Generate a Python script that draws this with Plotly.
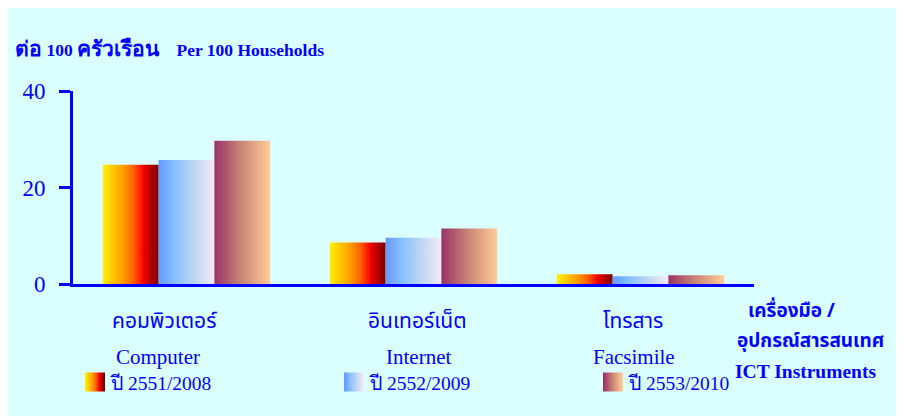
import plotly.graph_objects as go

# ---- data ----
categories_th = ["คอมพิวเตอร์", "อินเทอร์เน็ต", "โทรสาร"]
categories_en = ["Computer", "Internet", "Facsimile"]
series_names = ["ปี 2551/2008", "ปี 2552/2009", "ปี 2553/2010"]
values_2008 = [24.7, 8.6, 2.0]
values_2009 = [25.7, 9.6, 1.6]
values_2010 = [29.7, 11.5, 1.8]
y_ticks = [0, 20, 40]

series_values = [values_2008, values_2009, values_2010]

# ---- styles ----
BLUE = "#0000FF"
BG = "#DBFFFF"
SERIF = "Liberation Serif, Times New Roman, serif"
THAI = "Tahoma, Noto Sans Thai, DejaVu Sans, sans-serif"

scales = [
    [[0, "#FFF000"], [0.35, "#FFA000"], [0.55, "#FF6000"], [0.70, "#FF1000"], [0.73, "#F00000"], [1, "#780000"]],
    [[0, "#6699FF"], [0.3, "#88C0FF"], [0.6, "#B8D4F0"], [1, "#F6EAF8"]],
    [[0, "#993366"], [0.5, "#CC8877"], [1, "#FFCC99"]],
]

group_w = 0.737
bar_w = group_w / 3

fig = go.Figure()
for j, vals in enumerate(series_values):
    for i, v in enumerate(vals):
        x0 = i - group_w / 2 + j * bar_w
        x1 = x0 + bar_w
        fig.add_trace(go.Scatter(
            x=[x0, x1, x1, x0, x0], y=[0, 0, v, v, 0],
            mode="lines", line=dict(width=0), fill="toself",
            fillgradient=dict(type="horizontal", colorscale=scales[j]),
            name=series_names[j], legendgroup=series_names[j],
            showlegend=False, hoverinfo="skip",
        ))

OFF = 8  # page offset of the figure inside the browser window
W, H = 904, 416
PLOT_LEFT, PLOT_RIGHT, PLOT_TOP, PLOT_BOTTOM = 73, 754, 91, 284.3  # page pixels
L = PLOT_LEFT - OFF
R = W - (PLOT_RIGHT - OFF)
T = PLOT_TOP - OFF
B = H - (PLOT_BOTTOM - OFF)
pw, ph = PLOT_RIGHT - PLOT_LEFT, PLOT_BOTTOM - PLOT_TOP


def px_x(px):
    return (px - PLOT_LEFT) / pw


def px_y(py):
    return (PLOT_BOTTOM - py) / ph


def hexrgb(h):
    h = h.lstrip("#")
    return [int(h[k:k + 2], 16) for k in (0, 2, 4)]


def sample(scale, t):
    for (a, ca), (b, cb) in zip(scale[:-1], scale[1:]):
        if a <= t <= b:
            f = 0 if b == a else (t - a) / (b - a)
            A, Bc = hexrgb(ca), hexrgb(cb)
            return "rgb(%d,%d,%d)" % tuple(round(A[k] + (Bc[k] - A[k]) * f) for k in range(3))
    return scale[-1][1]


annotations = []
shapes = []

# category labels
th_shift = [-22, 4, -8]
en_shift = [-29, 5, -7]
for i in range(3):
    annotations.append(dict(x=i, y=px_y(322), xref="x", yref="paper", text=categories_th[i],
                            showarrow=False, xshift=th_shift[i], xanchor="center", yanchor="middle",
                            font=dict(family=THAI, size=21, color=BLUE)))
    annotations.append(dict(x=i, y=px_y(357), xref="x", yref="paper", text=categories_en[i],
                            showarrow=False, xshift=en_shift[i], xanchor="center", yanchor="middle",
                            font=dict(family=SERIF, size=21, color=BLUE)))

# custom legend (gradient swatches + labels)
sw_x = [85, 344, 603]
n_sl = 20
for j in range(3):
    for k in range(n_sl):
        x0 = sw_x[j] + k
        shapes.append(dict(type="rect", xref="paper", yref="paper",
                           x0=px_x(x0), x1=px_x(x0 + 1.05), y0=px_y(392), y1=px_y(373),
                           line=dict(width=0), fillcolor=sample(scales[j], k / (n_sl - 1))))
    annotations.append(dict(x=px_x(sw_x[j] + 23), y=px_y(384), xref="paper", yref="paper",
                            xanchor="left", yanchor="middle", text=series_names[j], showarrow=False,
                            font=dict(family=SERIF, size=19.5, color=BLUE)))

# unit title
title_text = ("<b><span style='font-size:21px'>ต่อ</span> 100 "
              "<span style='font-size:21px'>ครัวเรือน</span>&nbsp;&nbsp;&nbsp; Per 100 Households</b>")
annotations.append(dict(x=px_x(13), y=px_y(49), xref="paper", yref="paper", xanchor="left",
                        yanchor="middle", text=title_text, showarrow=False,
                        font=dict(family=SERIF, size=17.5, color=BLUE)))

# x-axis title on the right
annotations.append(dict(x=px_x(746), y=px_y(312), xref="paper", yref="paper", xanchor="left",
                        yanchor="middle", text="<b>เครื่องมือ /</b>", showarrow=False,
                        font=dict(family=THAI, size=19, color=BLUE)))
annotations.append(dict(x=px_x(735), y=px_y(342), xref="paper", yref="paper", xanchor="left",
                        yanchor="middle", text="<b>อุปกรณ์สารสนเทศ</b>", showarrow=False,
                        font=dict(family=THAI, size=19, color=BLUE)))
annotations.append(dict(x=px_x(733), y=px_y(372), xref="paper", yref="paper", xanchor="left",
                        yanchor="middle", text="<b>ICT Instruments</b>", showarrow=False,
                        font=dict(family=SERIF, size=19.5, color=BLUE)))

fig.update_layout(
    width=W, height=H,
    margin=dict(l=L, r=R, t=T, b=B),
    paper_bgcolor=BG, plot_bgcolor=BG,
    showlegend=False,
    annotations=annotations,
    shapes=shapes,
    xaxis=dict(range=[-0.5, 2.5], showgrid=False, zeroline=False, showticklabels=False,
               ticks="", showline=True, linecolor=BLUE, linewidth=3, fixedrange=True),
    yaxis=dict(range=[0, 40], tickvals=y_ticks, showgrid=False, zeroline=False,
               ticks="outside", ticklen=11, tickwidth=3, tickcolor=BLUE,
               showline=True, linecolor=BLUE, linewidth=3, ticklabelstandoff=9,
               tickfont=dict(family=SERIF, size=23, color=BLUE), fixedrange=True),
)

fig.write_html("out.html")
